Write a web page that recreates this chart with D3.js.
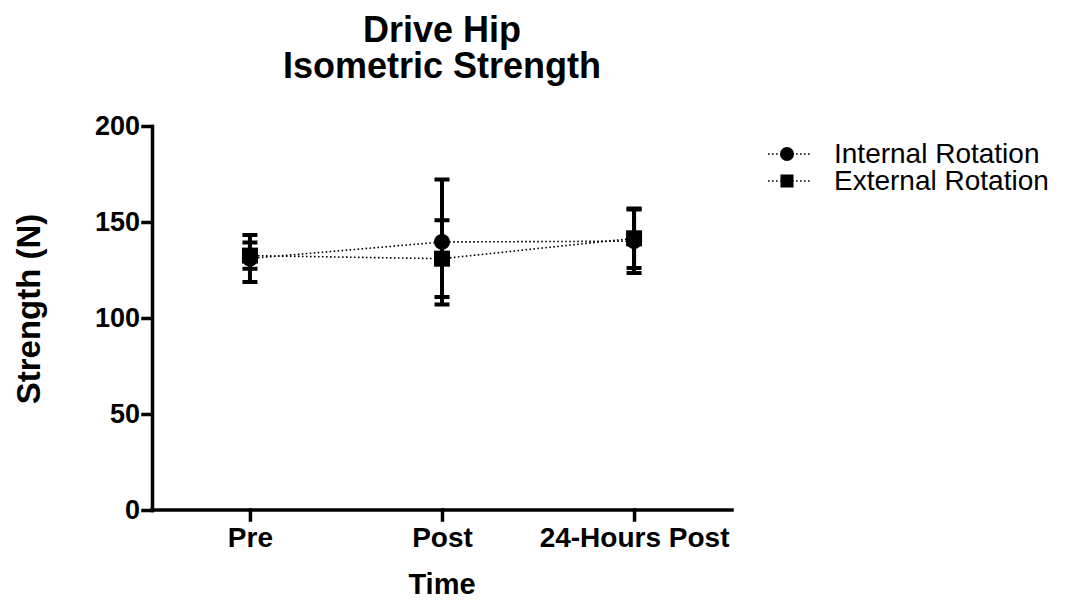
<!DOCTYPE html>
<html>
<head>
<meta charset="utf-8">
<script src="https://cdnjs.cloudflare.com/ajax/libs/d3/7.8.5/d3.min.js"></script>
<style>
	body { margin: 0; background: #fff; }
	svg { display: block; }
	text { font-family: "Liberation Sans", Arial, sans-serif; fill: #000; }
	.axis path, .axis line { stroke: #000; stroke-width: 3.5px; stroke-linecap: square; }
	.axis text { font-weight: bold; }
</style>
</head>
<body>
<svg width="1073" height="602"></svg>
<script>
	// values (Newtons, mean with error bar)
	var timepoints = ["Pre", "Post", "24-Hours Post"];
	var internalMean = [131, 139.6, 140];
	var internalErr = [12.2, 32.6, 16.5];
	var externalMean = [132.5, 130.9, 141.5];
	var externalErr = [6.8, 20, 15.5];
	var yTicks = [0, 50, 100, 150, 200];
	var seriesNames = ["Internal Rotation", "External Rotation"];

	var svg = d3.select("svg");

	var plotLeft = 152, plotRight = 732, plotTop = 126, plotBottom = 510;

	var x = d3.scalePoint()
		.domain(timepoints)
		.range([plotLeft, plotRight])
		.padding(0.51);

	var y = d3.scaleLinear()
		.domain([0, 200])
		.range([plotBottom, plotTop]);

	var series = [
		{ name: seriesNames[0], mean: internalMean, err: internalErr, shape: "circle" },
		{ name: seriesNames[1], mean: externalMean, err: externalErr, shape: "square" }
	];

	// axes
	svg.append("g")
		.attr("class", "axis")
		.attr("transform", "translate(" + plotLeft + ",0)")
		.call(d3.axisLeft(y).tickValues(yTicks).tickSize(9).tickSizeOuter(0).tickPadding(3))
		.call(function(g){ g.selectAll("text").style("font-size", "27px"); });

	svg.append("g")
		.attr("class", "axis")
		.attr("transform", "translate(0," + plotBottom + ")")
		.call(d3.axisBottom(x).tickSize(10).tickSizeOuter(0).tickPadding(7))
		.call(function(g){
			g.select(".domain").attr("d", "M" + plotLeft + ",0H" + plotRight);
			g.selectAll("text").style("font-size", "28px");
		});

	// titles
	var title = svg.append("text")
		.attr("text-anchor", "middle")
		.style("font-size", "36px")
		.style("font-weight", "bold");
	title.append("tspan").attr("x", 442).attr("y", 42).text("Drive Hip");
	title.append("tspan").attr("x", 442).attr("y", 78).text("Isometric Strength");

	svg.append("text")
		.attr("x", 442)
		.attr("y", 594)
		.attr("text-anchor", "middle")
		.style("font-size", "29px")
		.style("font-weight", "bold")
		.text("Time");

	svg.append("text")
		.attr("transform", "translate(40,309) rotate(-90)")
		.attr("text-anchor", "middle")
		.style("font-size", "33px")
		.style("font-weight", "bold")
		.text("Strength (N)");

	// connecting dotted lines
	var line = d3.line()
		.x(function(d, i){ return x(timepoints[i]); })
		.y(function(d){ return y(d); });

	svg.selectAll(".conn")
		.data(series)
		.enter().append("path")
		.attr("class", "conn")
		.attr("d", function(s){ return line(s.mean); })
		.attr("fill", "none")
		.attr("stroke", "#000")
		.attr("stroke-width", 1.6)
		.attr("stroke-dasharray", "1.6,2.4");

	var capW = 15;

	series.forEach(function(s){
		var g = svg.append("g");
		var pts = s.mean.map(function(m, i){
			return { t: timepoints[i], m: m, e: s.err[i] };
		});

		// error bars
		g.selectAll(".eb")
			.data(pts)
			.enter().append("path")
			.attr("d", function(d){
				var cx = x(d.t), hi = y(d.m + d.e), lo = y(d.m - d.e);
				return "M" + cx + "," + hi + "V" + lo +
					"M" + (cx - capW / 2) + "," + hi + "H" + (cx + capW / 2) +
					"M" + (cx - capW / 2) + "," + lo + "H" + (cx + capW / 2);
			})
			.attr("stroke", "#000")
			.attr("stroke-width", 4)
			.attr("fill", "none");

		// markers
		if (s.shape == "circle") {
			g.selectAll(".mk")
				.data(pts)
				.enter().append("circle")
				.attr("cx", function(d){ return x(d.t); })
				.attr("cy", function(d){ return y(d.m); })
				.attr("r", 8)
				.attr("fill", "#000");
		} else {
			g.selectAll(".mk")
				.data(pts)
				.enter().append("rect")
				.attr("x", function(d){ return x(d.t) - 8; })
				.attr("y", function(d){ return y(d.m) - 8; })
				.attr("width", 16)
				.attr("height", 16)
				.attr("fill", "#000");
		}
	});

	// legend
	var legend = svg.selectAll(".leg")
		.data(series)
		.enter().append("g")
		.attr("class", "leg")
		.attr("transform", function(d, i){ return "translate(768," + (154 + i * 27) + ")"; });

	legend.append("line")
		.attr("x1", 0).attr("x2", 42)
		.attr("stroke", "#000")
		.attr("stroke-width", 1.6)
		.attr("stroke-dasharray", "1.6,2.4");

	legend.each(function(d){
		var el = d3.select(this);
		if (d.shape == "circle") {
			el.append("circle").attr("cx", 19).attr("r", 7).attr("fill", "#000");
		} else {
			el.append("rect").attr("x", 12.5).attr("y", -6.5).attr("width", 13).attr("height", 13).attr("fill", "#000");
		}
	});

	legend.append("text")
		.attr("x", 66)
		.attr("y", 8.5)
		.style("font-size", "28px")
		.text(function(d){ return d.name; });
</script>
</body>
</html>
